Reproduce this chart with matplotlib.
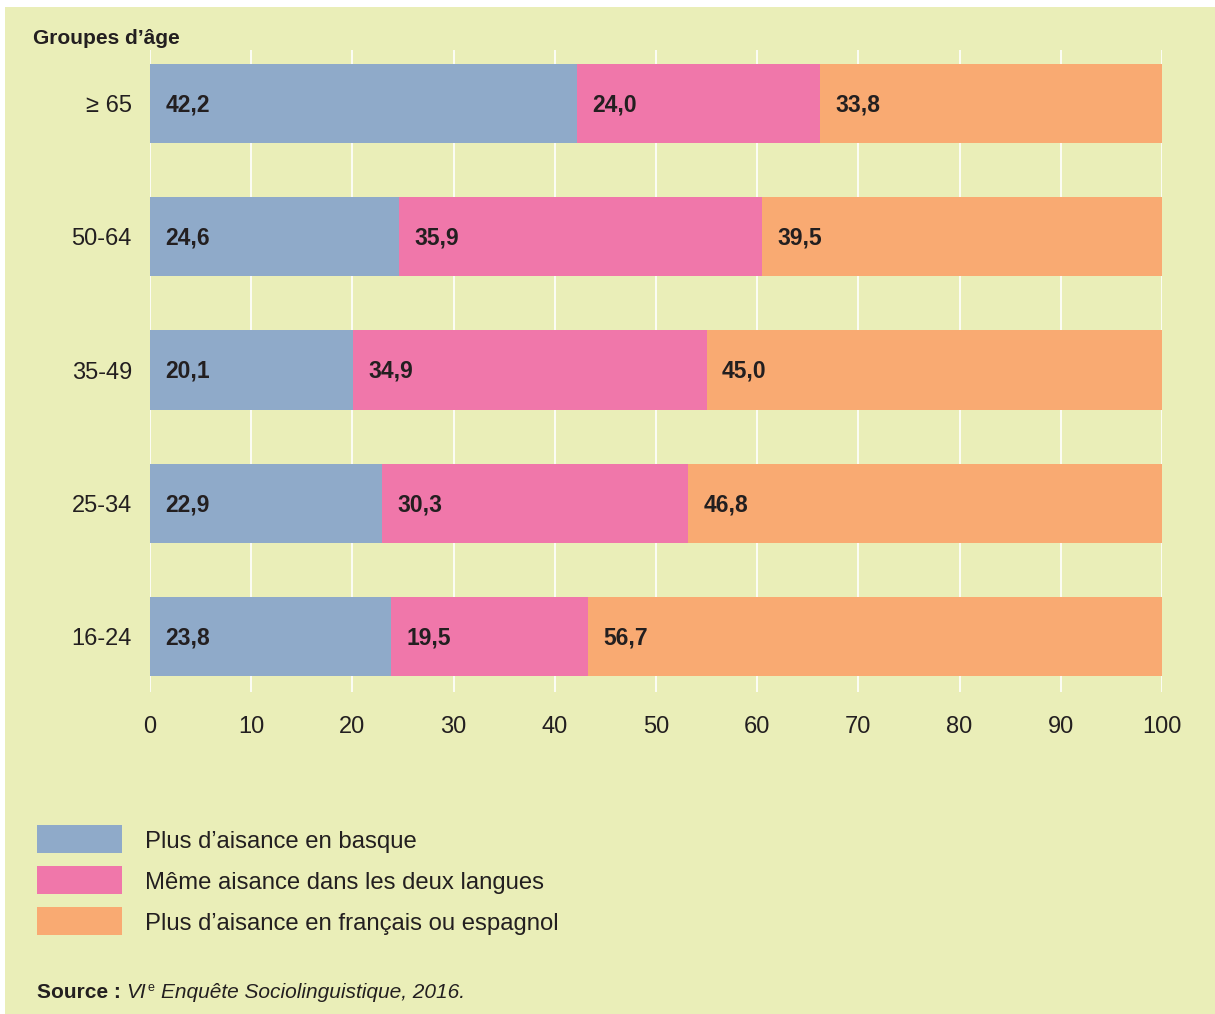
import numpy as np
import matplotlib.pyplot as plt
from matplotlib.patches import Rectangle

plt.rcParams['font.family'] = ['Liberation Sans', 'DejaVu Sans']

age_groups = ["16-24", "25-34", "35-49", "50-64", "≥ 65"]
basque = [23.8, 22.9, 20.1, 24.6, 42.2]
both = [19.5, 30.3, 34.9, 35.9, 24.0]
fr_es = [56.7, 46.8, 45.0, 39.5, 33.8]

series_labels = ["Plus d’aisance en basque",
                 "Même aisance dans les deux langues",
                 "Plus d’aisance en français ou espagnol"]
series_colors = ["#8FAAC9", "#F077AA", "#F9AA72"]
BG = "#EAEEB8"
TXT = "#231F20"

fig = plt.figure(figsize=(12.15, 10.14), dpi=100, facecolor="white")
fig.patches.append(Rectangle((5 / 1215, 0), 1 - 5 / 1215, 1 - 7 / 1014,
                             transform=fig.transFigure, facecolor=BG,
                             edgecolor="none", zorder=-5))

ax = fig.add_axes([150 / 1215, 1 - 692 / 1014, 1012 / 1215, 642 / 1014])
ax.set_facecolor("none")

y = np.arange(len(age_groups))
left = np.zeros(len(age_groups))
for vals, col in zip([basque, both, fr_es], series_colors):
    bars = ax.barh(y, vals, left=left, height=0.593, color=col, zorder=2)
    for b, v in zip(bars, vals):
        ax.annotate(f"{v:.1f}".replace(".", ","), xy=(b.get_x(), b.get_y() + b.get_height() / 2),
                    xytext=(11, -1), textcoords="offset points", va="center", ha="left",
                    fontsize=16.5, fontweight="bold", color=TXT, zorder=3)
    left += np.array(vals)

ax.set_xlim(0, 100)
ax.set_ylim(-0.4165, 4.4015)
ax.set_xticks(np.arange(0, 101, 10))
ax.set_yticks(y)
ax.set_yticklabels(age_groups)
ax.xaxis.grid(True, color="white", linewidth=1.2, zorder=1)
ax.set_axisbelow(True)
for s in ax.spines.values():
    s.set_visible(False)
ax.tick_params(axis="both", length=0, labelsize=17, labelcolor=TXT)
ax.tick_params(axis="x", pad=17)
ax.tick_params(axis="y", pad=13)

fig.text(33 / 1215, 1 - 38 / 1014, "Groupes d’âge", fontsize=15, fontweight="bold",
         color=TXT, va="center", ha="left")

# legend
for i, (lab, col) in enumerate(zip(series_labels, series_colors)):
    top = 825 + i * 41
    fig.patches.append(Rectangle((37 / 1215, 1 - (top + 28) / 1014), 85 / 1215, 28 / 1014,
                                 transform=fig.transFigure, facecolor=col, edgecolor="none"))
    fig.text(145 / 1215, 1 - (top + 17) / 1014, lab, fontsize=17.2, color=TXT,
             va="center", ha="left")

# source line
t1 = fig.text(37 / 1215, 1 - 998 / 1014, "Source :", fontsize=15, fontweight="bold",
              color=TXT, va="baseline", ha="left")
t2 = plt.annotate("VI", xy=(1, 0), xycoords=t1, xytext=(4, 0), textcoords="offset points",
                  fontsize=15, fontstyle="italic", color=TXT, va="bottom", ha="left",
                  annotation_clip=False)
t3 = plt.annotate("e", xy=(1, 0), xycoords=t2, xytext=(1, 5.5), textcoords="offset points",
                  fontsize=9, color=TXT, va="bottom", ha="left",
                  annotation_clip=False)
plt.annotate("Enquête Sociolinguistique, 2016.", xy=(1, 0), xycoords=t2,
             xytext=(11, 0), textcoords="offset points",
             fontsize=15, fontstyle="italic", color=TXT, va="bottom", ha="left",
             annotation_clip=False)

fig.savefig("out.png", dpi=100, facecolor=fig.get_facecolor())
